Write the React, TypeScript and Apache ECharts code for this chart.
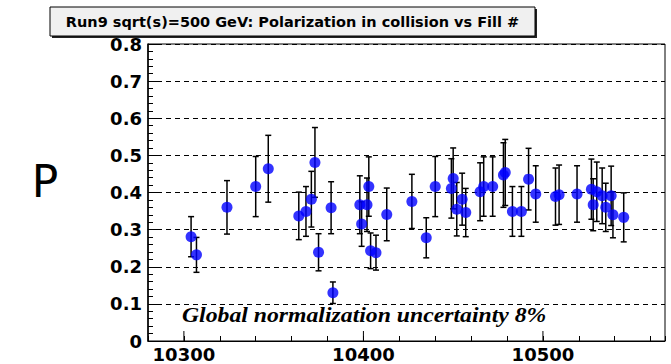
import React, { useEffect, useRef } from "react";
import * as echarts from "echarts";

const fills = [
  10304, 10307, 10324, 10340, 10347, 10364, 10368, 10371, 10373, 10375,
  10382, 10383, 10398, 10399, 10402, 10403, 10404, 10407, 10413, 10427,
  10435, 10440, 10449, 10450, 10452, 10455, 10457, 10465, 10467, 10472,
  10478, 10479, 10483, 10488, 10492, 10496, 10507, 10509, 10519, 10527,
  10528, 10530, 10533, 10535, 10538, 10539, 10545,
];
const polarization = [
  0.281, 0.232, 0.36, 0.416, 0.464, 0.337, 0.349, 0.382, 0.481, 0.239,
  0.359, 0.13, 0.367, 0.315, 0.367, 0.416, 0.243, 0.238, 0.341, 0.376,
  0.278, 0.416, 0.411, 0.438, 0.355, 0.382, 0.346, 0.402, 0.416, 0.416,
  0.447, 0.454, 0.349, 0.349, 0.436, 0.396, 0.389, 0.394, 0.396, 0.409,
  0.367, 0.402, 0.391, 0.36, 0.391, 0.34, 0.333,
];
const errors = [
  0.054, 0.047, 0.072, 0.081, 0.09, 0.064, 0.067, 0.075, 0.094, 0.05,
  0.07, 0.029, 0.078, 0.06, 0.072, 0.08, 0.048, 0.047, 0.071, 0.073,
  0.054, 0.081, 0.08, 0.082, 0.072, 0.07, 0.065, 0.078, 0.08, 0.08,
  0.087, 0.089, 0.067, 0.067, 0.083, 0.076, 0.077, 0.08, 0.076, 0.081,
  0.07, 0.08, 0.075, 0.065, 0.08, 0.062, 0.066,
];
const majorXTicks = [10300, 10400, 10500];

const TITLE = "Run9 sqrt(s)=500 GeV: Polarization in collision vs Fill #";
const NOTE = "Global normalization uncertainty 8%";

export default function App() {
  const ref = useRef<HTMLDivElement>(null);
  useEffect(() => {
    if (!ref.current) return;
    const chart = echarts.init(ref.current, null, { renderer: "svg" });
    const sans = "'DejaVu Sans', 'Liberation Sans', Arial, sans-serif";
    chart.setOption({
      animation: false,
      backgroundColor: "#ffffff",
      grid: {
        left: 148,
        right: 6,
        top: 44,
        bottom: 23,
        show: true,
        borderColor: "#000",
        borderWidth: 1,
        backgroundColor: "transparent",
      },
      xAxis: {
        type: "value",
        min: 10280,
        max: 10568,
        interval: 20,
        axisLine: { show: true, lineStyle: { color: "#000", width: 1 } },
        axisTick: { show: true, inside: true, length: 5, lineStyle: { color: "#000" } },
        splitLine: { show: false },
        axisLabel: {
          margin: 4,
          color: "#000",
          fontFamily: sans,
          fontWeight: "bold",
          fontSize: 18,
          formatter: (v: number) => (Math.round(v) % 100 === 0 ? String(Math.round(v)) : ""),
        },
      },
      yAxis: {
        type: "value",
        min: 0,
        max: 0.8,
        interval: 0.1,
        axisLine: { show: true, lineStyle: { color: "#000", width: 1.5 } },
        axisTick: { show: true, inside: true, length: 9, lineStyle: { color: "#000" } },
        minorTick: { show: true, splitNumber: 5, length: 5, lineStyle: { color: "#000" } },
        splitLine: { show: true, lineStyle: { color: "#000", type: [5, 4], width: 1 } },
        axisLabel: {
          margin: 6,
          color: "#000",
          fontFamily: sans,
          fontWeight: "bold",
          fontSize: 18,
          formatter: (v: number) => (Math.abs(v) < 1e-9 ? "0" : v.toFixed(1)),
        },
      },
      series: [
        {
          type: "custom",
          data: fills.map((f, i) => [f, polarization[i], errors[i]]),
          encode: { x: 0, y: 1 },
          z: 2,
          renderItem: (params: any, api: any) => {
            const x = api.value(0);
            const y = api.value(1);
            const e = api.value(2);
            const top = api.coord([x, y + e]);
            const bot = api.coord([x, y - e]);
            const cap = 3;
            const st = { stroke: "#000", lineWidth: 1.5 };
            return {
              type: "group",
              children: [
                { type: "line", shape: { x1: top[0], y1: top[1], x2: bot[0], y2: bot[1] }, style: st },
                { type: "line", shape: { x1: top[0] - cap, y1: top[1], x2: top[0] + cap, y2: top[1] }, style: st },
                { type: "line", shape: { x1: bot[0] - cap, y1: bot[1], x2: bot[0] + cap, y2: bot[1] }, style: st },
              ],
            };
          },
        },
        {
          type: "scatter",
          data: fills.map((f, i) => [f, polarization[i]]),
          symbol: "circle",
          symbolSize: 11,
          z: 3,
          itemStyle: { color: "#0000ff" },
        },
        {
          type: "custom",
          data: majorXTicks.map((v) => [v, 0]),
          encode: { x: 0, y: 1 },
          z: 4,
          renderItem: (params: any, api: any) => {
            const p = api.coord([api.value(0), 0]);
            return {
              type: "line",
              shape: { x1: p[0], y1: p[1], x2: p[0], y2: p[1] - 10 },
              style: { stroke: "#000", lineWidth: 1 },
            };
          },
        },
      ],
      graphic: [
        { type: "rect", z: 10, shape: { x: 52, y: 9, width: 485, height: 29 }, style: { fill: "#222" } },
        {
          type: "rect",
          z: 11,
          shape: { x: 50, y: 7, width: 485, height: 29 },
          style: { fill: "#f0f0f0", stroke: "#000", lineWidth: 1 },
        },
        {
          type: "text",
          z: 12,
          x: 292.5,
          y: 22,
          style: {
            text: TITLE,
            fill: "#000",
            font: `bold 14.5px ${sans}`,
            textAlign: "center",
            textVerticalAlign: "middle",
          },
        },
        {
          type: "text",
          z: 12,
          x: 45,
          y: 181,
          style: {
            text: "P",
            fill: "#000",
            font: `44px ${sans}`,
            textAlign: "center",
            textVerticalAlign: "middle",
          },
        },
        {
          type: "text",
          z: 12,
          x: 182,
          y: 315,
          scaleX: 1.13,
          style: {
            text: NOTE,
            fill: "#000",
            font: `italic bold 21px 'Liberation Serif', 'Times New Roman', serif`,
            textAlign: "left",
            textVerticalAlign: "middle",
          },
        },
      ],
    });
    return () => chart.dispose();
  }, []);
  return (
    <div
      ref={ref}
      style={{ position: "fixed", left: 0, top: 0, width: 671, height: 364, background: "#fff" }}
    />
  );
}
